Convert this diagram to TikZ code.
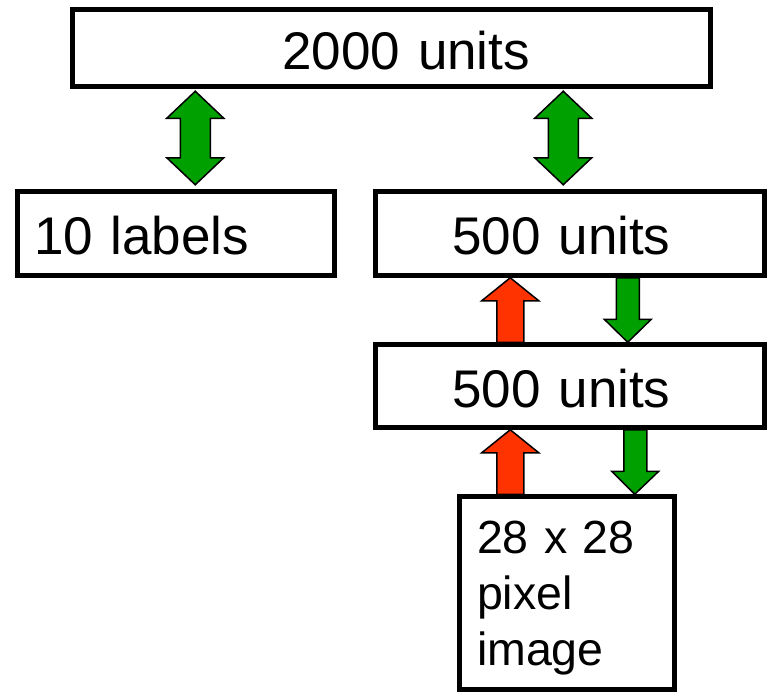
\documentclass[tikz,border=0pt]{standalone}
\usepackage{fontspec}
\setmainfont{Liberation Sans}
\usetikzlibrary{calc}
\definecolor{LayerGreen}{HTML}{00A000}
\definecolor{LayerRed}{HTML}{FF3300}

\begin{document}
\begin{tikzpicture}[
  x=1pt, y=-1pt,
  layer/.style={rectangle, draw=black, fill=white, line width=4.5pt, inner ysep=0pt,
    align=left, font=\fontsize{53}{56}\selectfont},
  oneline/.style={text height=42pt, text depth=0pt},
  blockarrow/.style n args={3}{to path={let \p1=(\tikztostart), \p2=(\tikztotarget),
    \n1={sign(\y2-\y1)} in
    (\x1-#1,\y1) -- (\x1-#1,\y2-\n1*#3) -- (\x1-#2,\y2-\n1*#3) -- (\x2,\y2)
    -- (\x1+#2,\y2-\n1*#3) -- (\x1+#1,\y2-\n1*#3) -- (\x1+#1,\y1) -- cycle}},
  bothwayarrow/.style n args={3}{to path={let \p1=(\tikztostart), \p2=(\tikztotarget),
    \n1={sign(\y2-\y1)} in
    (\x1-#1,\y1+\n1*#3) -- (\x1-#1,\y2-\n1*#3) -- (\x1-#2,\y2-\n1*#3) -- (\x2,\y2)
    -- (\x1+#2,\y2-\n1*#3) -- (\x1+#1,\y2-\n1*#3) -- (\x1+#1,\y1+\n1*#3)
    -- (\x1+#2,\y1+\n1*#3) -- (\x1,\y1) -- (\x1-#2,\y1+\n1*#3) -- cycle}},
  uparrow/.style={draw=black, line width=1.5pt, fill=LayerRed, blockarrow={13.5pt}{28.5pt}{23pt}},
  downarrow/.style={draw=black, line width=1.5pt, fill=LayerGreen, blockarrow={11.5pt}{23.5pt}{23pt}},
  linkarrow/.style={draw=black, line width=1.5pt, fill=LayerGreen, bothwayarrow={15pt}{28.5pt}{27pt}}
]
\useasboundingbox (0,0) rectangle (767,691);

% layers
\node (top) [layer, oneline, inner xsep=210pt, text width=218pt, minimum height=77pt] at (391.5,48) {2000~units};
\node (lab) [layer, oneline, inner xsep=16.5pt, text width=284pt, minimum height=84pt] at (176,233.5) {10 labels};
\node (h1) [layer, oneline, inner xsep=77pt, text width=235pt, minimum height=84pt] at (570,233.5) {500 units};
\node (h2) [layer, oneline, inner xsep=77pt, text width=235pt, minimum height=83pt] at (570,386) {500 units};
\node (img) [layer, font=\fontsize{46.5}{56}\selectfont, text height=34pt, text depth=114pt,
  inner xsep=17.5pt, text width=180pt, minimum height=193pt] at (567,593) {28~x~28\\pixel\\image};

% connections
\path[linkarrow] ([xshift=125pt,yshift=-2.5pt]top.south west) to ([xshift=180pt,yshift=4.5pt]lab.north west);
\path[linkarrow] ([xshift=493pt,yshift=-2.5pt]top.south west) to ([xshift=190pt,yshift=4.5pt]h1.north west);
\path[uparrow] ([xshift=137pt]h2.north west) to ([xshift=137pt]h1.south west);
\path[downarrow] ([xshift=254.5pt]h1.south west) to ([xshift=254.5pt]h2.north west);
\path[uparrow] ([xshift=53pt]img.north west) to ([xshift=137pt]h2.south west);
\path[downarrow] ([xshift=262pt]h2.south west) to ([xshift=177.5pt]img.north west);
\end{tikzpicture}
\end{document}
